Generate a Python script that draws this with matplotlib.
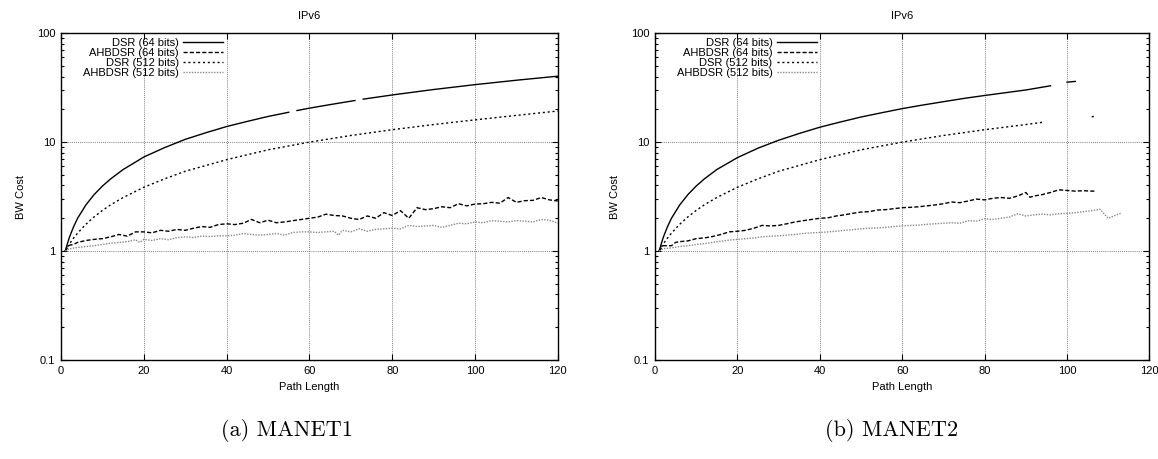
import numpy as np
import matplotlib
matplotlib.use("Agg")
import matplotlib.pyplot as plt
from matplotlib.ticker import FixedLocator, LogLocator, NullFormatter, FuncFormatter

nan = np.nan

# ---- (a) MANET1 ----
a_dsr64_x = [1, 2, 3, 4, 5, 6, 8, 10, 12, 15, 20, 25, 30, 35, 40, 45, 50, 55, 56, 57, 60, 65, 71, 72, 73, 80, 90, 100, 110, 120]
a_dsr64_y = [1.0, 1.33, 1.66, 2.0, 2.3, 2.65, 3.3, 3.95, 4.6, 5.6, 7.3, 8.9, 10.6, 12.2, 13.9, 15.5, 17.2, 18.8, nan, 19.5, 20.5, 22.1, 24.1, nan, 24.8, 27.1, 30.4, 33.7, 37.0, 40.3]

a_dsr512_x = [1, 2, 3, 4, 6, 8, 10, 12, 15, 20, 25, 30, 40, 50, 60, 70, 80, 90, 100, 110, 120]
a_dsr512_y = [1.0, 1.16, 1.31, 1.46, 1.76, 2.06, 2.36, 2.66, 3.1, 3.85, 4.6, 5.4, 6.9, 8.5, 10.0, 11.5, 13.0, 14.5, 16.0, 17.6, 19.3]

a_ah64_x = [1, 2, 3, 4, 6, 8, 10, 12, 14, 16, 18, 20, 22, 24, 26, 28, 30, 32, 34, 36, 38, 40, 42, 44, 46, 48, 50, 52, 54, 56, 58,
            60, 62, 64, 66, 68, 70, 72, 74, 76, 78, 80, 82, 84, 86, 88, 90, 92, 94, 96, 98, 100, 102, 104, 106, 108, 110, 112, 114, 116, 118, 120]
a_ah64_y = [1.0, 1.13, 1.15, 1.2, 1.25, 1.28, 1.3, 1.35, 1.42, 1.37, 1.5, 1.5, 1.47, 1.55, 1.52, 1.58, 1.55, 1.62, 1.68, 1.65, 1.75, 1.78,
            1.75, 1.8, 1.95, 1.82, 1.92, 1.82, 1.85, 1.9, 1.95, 2.0, 2.05, 2.18, 2.12, 2.1, 2.0, 1.95, 2.1, 2.0, 2.25, 2.12, 2.35, 2.0,
            2.5, 2.4, 2.45, 2.55, 2.5, 2.72, 2.6, 2.7, 2.72, 2.8, 2.75, 3.1, 2.8, 2.9, 2.92, 3.1, 2.95, 2.88]

a_ah512_x = [1, 2, 4, 6, 8, 10, 12, 14, 16, 18, 19, 20, 22, 24, 26, 28, 30, 32, 34, 36, 38, 40, 42, 44, 46, 48, 50, 52, 54, 56, 58, 60,
             62, 64, 66, 67, 68, 70, 72, 74, 76, 78, 80, 82, 84, 86, 88, 90, 92, 94, 96, 98, 100, 102, 104, 106, 108, 110, 112, 114, 116, 118, 120]
a_ah512_y = [1.0, 1.05, 1.08, 1.1, 1.12, 1.15, 1.18, 1.2, 1.22, 1.27, 1.2, 1.28, 1.25, 1.3, 1.27, 1.33, 1.35, 1.33, 1.37, 1.36, 1.38, 1.38,
             1.4, 1.45, 1.42, 1.4, 1.42, 1.45, 1.4, 1.48, 1.5, 1.5, 1.48, 1.5, 1.52, 1.4, 1.55, 1.5, 1.6, 1.52, 1.58, 1.6, 1.62, 1.6,
             1.72, 1.68, 1.7, 1.72, 1.65, 1.72, 1.8, 1.78, 1.85, 1.82, 1.9, 1.88, 1.85, 1.9, 1.88, 1.85, 1.95, 1.92, 1.8]

# ---- (b) MANET2 ----
b_dsr64_x = [1, 2, 3, 4, 5, 6, 8, 10, 12, 15, 20, 25, 30, 35, 40, 45, 50, 55, 60, 65, 70, 75, 80, 85, 90, 96, 98, 100, 102]
b_dsr64_y = [1.0, 1.33, 1.66, 2.0, 2.3, 2.65, 3.3, 3.95, 4.6, 5.6, 7.2, 8.8, 10.4, 12.0, 13.7, 15.3, 17.0, 18.6, 20.3, 21.9, 23.5, 25.2, 26.8, 28.4, 30.1, 32.9, nan, 35.5, 36.1]

b_dsr512_x = [1, 2, 3, 4, 6, 8, 10, 12, 15, 20, 25, 30, 40, 50, 60, 70, 80, 90, 94, 100, 106, 107]
b_dsr512_y = [1.0, 1.16, 1.31, 1.46, 1.76, 2.06, 2.36, 2.66, 3.1, 3.85, 4.6, 5.4, 6.9, 8.5, 10.0, 11.5, 13.0, 14.5, 15.2, nan, 17.1, 17.3]

b_ah64_x = [1, 2, 4, 5, 6, 8, 10, 12, 14, 16, 18, 20, 22, 24, 26, 28, 30, 32, 34, 36, 38, 40, 42, 44, 46, 48, 50, 52, 54, 56, 58, 60,
            62, 64, 66, 68, 70, 72, 74, 76, 78, 80, 82, 84, 86, 88, 90, 91, 92, 94, 96, 98, 100, 102, 104, 106, 107]
b_ah64_y = [1.0, 1.12, 1.12, 1.2, 1.22, 1.24, 1.3, 1.32, 1.36, 1.42, 1.5, 1.52, 1.55, 1.62, 1.72, 1.7, 1.72, 1.78, 1.85, 1.9, 1.95, 2.0,
            2.02, 2.1, 2.15, 2.22, 2.28, 2.3, 2.38, 2.4, 2.45, 2.5, 2.52, 2.55, 2.6, 2.65, 2.72, 2.82, 2.78, 2.88, 3.0, 2.95, 3.05, 3.1,
            3.05, 3.2, 3.45, 3.12, 3.2, 3.3, 3.45, 3.65, 3.6, 3.55, 3.58, 3.55, 3.55]

b_ah512_x = [1, 2, 4, 6, 8, 10, 12, 14, 16, 18, 20, 22, 24, 26, 28, 30, 32, 34, 36, 38, 40, 42, 44, 46, 48, 50, 52, 54, 56, 58, 60,
             62, 64, 66, 68, 70, 72, 74, 76, 78, 80, 82, 84, 86, 88, 90, 92, 94, 96, 98, 100, 102, 104, 106, 108, 110, 112, 113]
b_ah512_y = [1.0, 1.05, 1.07, 1.1, 1.12, 1.15, 1.17, 1.2, 1.23, 1.26, 1.28, 1.3, 1.32, 1.35, 1.37, 1.38, 1.4, 1.42, 1.45, 1.47, 1.48,
             1.5, 1.52, 1.55, 1.57, 1.6, 1.62, 1.63, 1.65, 1.68, 1.7, 1.72, 1.73, 1.76, 1.78, 1.8, 1.82, 1.8, 1.9, 1.88, 1.98, 1.95,
             2.0, 2.05, 2.2, 2.1, 2.15, 2.18, 2.15, 2.2, 2.22, 2.25, 2.3, 2.35, 2.42, 2.0, 2.15, 2.22]

labels = ["DSR (64 bits)", "AHBDSR (64 bits)", "DSR (512 bits)", "AHBDSR (512 bits)"]
captions = ["(a) MANET1", "(b) MANET2"]
caption_x = [0.248, 0.770]

plt.rcParams["font.family"] = ["Liberation Sans", "DejaVu Sans"]
FS = 8

fig = plt.figure(figsize=(11.58, 4.59), dpi=100)
axes = [fig.add_axes([0.0527, 0.2157, 0.429, 0.712]),
        fig.add_axes([0.5656, 0.2157, 0.427, 0.712])]

panels = [
    (a_dsr64_x, a_dsr64_y, a_ah64_x, a_ah64_y, a_dsr512_x, a_dsr512_y, a_ah512_x, a_ah512_y),
    (b_dsr64_x, b_dsr64_y, b_ah64_x, b_ah64_y, b_dsr512_x, b_dsr512_y, b_ah512_x, b_ah512_y),
]

styles = [
    dict(color="black", lw=1.0, ls="-"),
    dict(color="black", lw=1.0, ls=(0, (3, 1.5))),
    dict(color="black", lw=1.0, ls=(0, (1.5, 2))),
    dict(color="#888888", lw=1.0, ls=(0, (1, 1))),
]

for ax, data, cap, cx in zip(axes, panels, captions, caption_x):
    for i in range(4):
        ax.plot(data[2 * i], data[2 * i + 1], label=labels[i], **styles[i])
    ax.set_yscale("log")
    ax.set_xlim(0, 120); ax.set_ylim(0.1, 100)
    ax.xaxis.set_major_locator(FixedLocator([0, 20, 40, 60, 80, 100, 120]))
    ax.yaxis.set_major_locator(FixedLocator([0.1, 1, 10, 100]))
    ax.yaxis.set_major_formatter(FuncFormatter(lambda v, p: "%g" % v))
    ax.yaxis.set_minor_locator(LogLocator(base=10, subs=np.arange(2, 10)))
    ax.yaxis.set_minor_formatter(NullFormatter())
    ax.tick_params(which="both", direction="in", top=True, right=True, labelsize=FS, width=0.8)
    ax.tick_params(which="major", length=4, pad=4)
    ax.tick_params(which="minor", length=2)
    ax.grid(True, which="major", color="#555555", ls=(0, (1, 1.5)), lw=0.6)
    for s in ax.spines.values():
        s.set_linewidth(1.0)
    ax.set_title("IPv6", fontsize=FS, pad=10)
    ax.set_xlabel("Path Length", fontsize=FS, labelpad=5)
    ax.set_ylabel("BW Cost", fontsize=FS, labelpad=8)
    ax.legend(loc="upper left", frameon=False, fontsize=FS, markerfirst=False,
              handlelength=3.6, handletextpad=0.4, labelspacing=0.02,
              borderaxespad=0.0, bbox_to_anchor=(0.035, 1.0))
    fig.text(cx, 0.063, cap, ha="center", va="center", fontsize=16, family="cmr10")

fig.savefig("out.png", dpi=100)
